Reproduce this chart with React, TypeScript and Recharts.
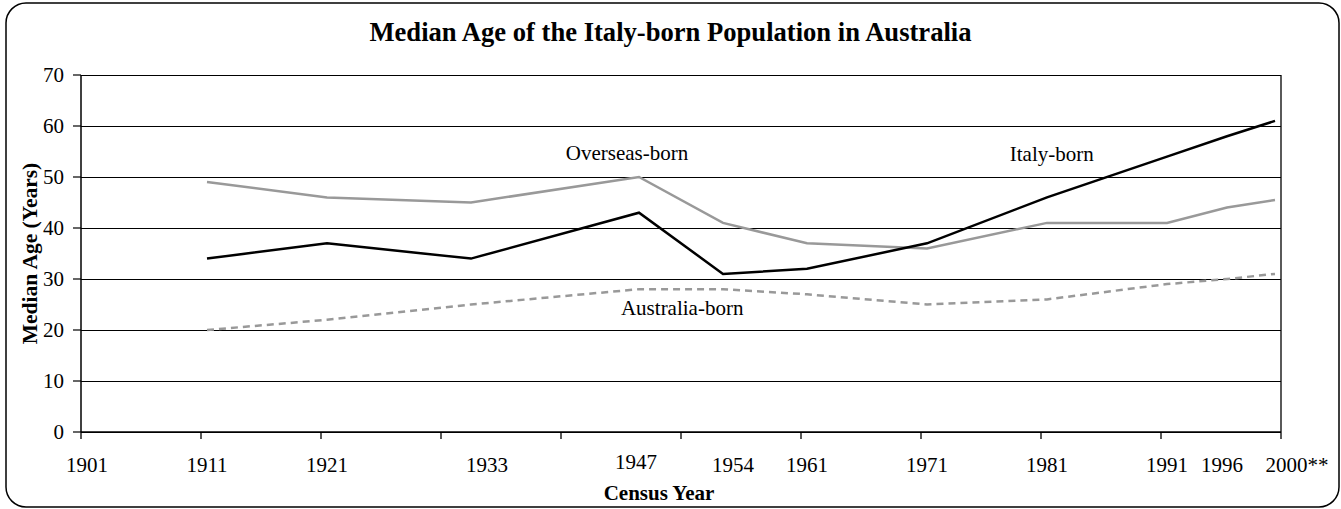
import React from 'react';
import {
  LineChart,
  Line,
  XAxis,
  YAxis,
  CartesianGrid,
  ReferenceDot,
  ReferenceLine,
} from 'recharts';

// ---- data ----
const CENSUS_YEARS = [1911, 1921, 1933, 1947, 1954, 1961, 1971, 1981, 1991, 1996, 2000];
const ITALY_BORN = [34, 37, 34, 43, 31, 32, 37, 46, 54, 58, 61];
const OVERSEAS_BORN = [49, 46, 45, 50, 41, 37, 36, 41, 41, 44, 45.5];
const AUSTRALIA_BORN = [20, 22, 25, 28, 28, 27, 25, 26, 29, 30, 31];

const TICK_YEARS = [1901, 1911, 1921, 1933, 1947, 1954, 1961, 1971, 1981, 1991, 1996, 2000];
const TICK_LABELS = ['1901', '1911', '1921', '1933', '1947', '1954', '1961', '1971', '1981', '1991', '1996', '2000**'];
const MARK_TICKS = [1900.5, 1910.5, 1920.5, 1930.5, 1940.5, 1950.5, 1960.5, 1970.5, 1980.5, 1990.5, 2000.5];
const Y_TICKS = [0, 10, 20, 30, 40, 50, 60, 70];
const X_DOMAIN: [number, number] = [1900.5, 2000.5];

const SERIES_LABELS = [
  { text: 'Overseas-born', year: 1946, value: 54.7 },
  { text: 'Italy-born', year: 1981.4, value: 54.6 },
  { text: 'Australia-born', year: 1950.6, value: 24.5 },
];

const TITLE = 'Median Age of the Italy-born Population in Australia';
const X_TITLE = 'Census Year';
const Y_TITLE = 'Median Age (Years)';

// ---- style ----
const FONT = "'Liberation Serif', 'Times New Roman', serif";
const W = 1341;
const H = 509;
const GRAY = '#999999';
const LABEL_NUDGE: Record<string, { dx: number; dy: number }> = {
  '1933': { dx: 16, dy: 0 },
  '1947': { dx: -3, dy: -3 },
  '1954': { dx: 10, dy: 0 },
  '1996': { dx: -5, dy: 0 },
  '2000**': { dx: 22, dy: 0 },
};

const data = CENSUS_YEARS.map((year, i) => ({
  year,
  italy: ITALY_BORN[i],
  overseas: OVERSEAS_BORN[i],
  australia: AUSTRALIA_BORN[i],
}));

const XLabelTick = (props: any) => {
  const { x, payload } = props;
  const idx = TICK_YEARS.indexOf(payload.value);
  const label = idx >= 0 ? TICK_LABELS[idx] : String(payload.value);
  const n = LABEL_NUDGE[label] || { dx: 0, dy: 0 };
  return (
    <text
      x={x + n.dx}
      y={472 + n.dy}
      textAnchor="middle"
      fontSize={21}
      fill="#000"
      fontFamily={FONT}
    >
      {label}
    </text>
  );
};

const EmptyTick = () => <g />;

export default function App() {
  return (
    <div
      style={{
        position: 'absolute',
        left: 0,
        top: 0,
        width: W,
        height: H,
        background: '#fff',
        fontFamily: FONT,
      }}
    >
      <svg
        width={W}
        height={H}
        style={{ position: 'absolute', left: 0, top: 0 }}
      >
        <rect x={6} y={3} width={1333} height={504} rx={20} ry={20} fill="#fff" stroke="#000" strokeWidth={1.5} />
        <text x={670.5} y={41} textAnchor="middle" fontSize={26.6} fontWeight="bold" fill="#000" fontFamily={FONT}>
          {TITLE}
        </text>
        <text x={659} y={500} textAnchor="middle" fontSize={21} fontWeight="bold" fill="#000" fontFamily={FONT}>
          {X_TITLE}
        </text>
        <text
          transform="translate(37,253.5) rotate(-90)"
          x={0}
          y={0}
          textAnchor="middle"
          fontSize={21.5}
          fontWeight="bold"
          fill="#000"
          fontFamily={FONT}
        >
          {Y_TITLE}
        </text>
      </svg>
      <div style={{ position: 'absolute', left: 0, top: 0 }}>
        <LineChart
          width={W}
          height={H}
          data={data}
          margin={{ top: 75, right: 60, left: 0, bottom: 0 }}
        >
          <CartesianGrid
            horizontal
            vertical={false}
            stroke="#000"
            strokeWidth={1}
            shapeRendering="crispEdges"
            yAxisId="left"
            xAxisId="a"
          />
          <XAxis
            xAxisId="a"
            dataKey="year"
            type="number"
            domain={X_DOMAIN}
            ticks={MARK_TICKS}
            interval={0}
            allowDataOverflow
            height={1}
            tick={<EmptyTick />}
            tickSize={7}
            tickLine={{ stroke: '#000', strokeWidth: 1.3 }}
            axisLine={{ stroke: '#000', strokeWidth: 1.5 }}
          />
          <XAxis
            xAxisId="b"
            dataKey="year"
            type="number"
            domain={X_DOMAIN}
            ticks={TICK_YEARS}
            interval={0}
            allowDataOverflow
            height={76}
            tickSize={0}
            tickMargin={0}
            tickLine={false}
            axisLine={false}
            tick={<XLabelTick />}
          />
          <YAxis
            yAxisId="left"
            domain={[0, 70]}
            ticks={Y_TICKS}
            interval={0}
            width={81}
            tickSize={8}
            tickMargin={9}
            tick={{ fontSize: 21, fill: '#000', fontFamily: FONT }}
            tickLine={{ stroke: '#000', strokeWidth: 1.2 }}
            axisLine={{ stroke: '#000', strokeWidth: 1.5 }}
          />
          <ReferenceLine xAxisId="b" yAxisId="left" x={X_DOMAIN[1]} stroke="#000" strokeWidth={1.3} />
          <Line
            xAxisId="b"
            yAxisId="left"
            type="linear"
            dataKey="overseas"
            stroke={GRAY}
            strokeWidth={2.5}
            dot={false}
            isAnimationActive={false}
          />
          <Line
            xAxisId="b"
            yAxisId="left"
            type="linear"
            dataKey="australia"
            stroke={GRAY}
            strokeWidth={2.5}
            strokeDasharray="7 5"
            dot={false}
            isAnimationActive={false}
          />
          <Line
            xAxisId="b"
            yAxisId="left"
            type="linear"
            dataKey="italy"
            stroke="#000"
            strokeWidth={2.5}
            dot={false}
            isAnimationActive={false}
          />
          {SERIES_LABELS.map((s) => (
            <ReferenceDot
              key={s.text}
              xAxisId="b"
              yAxisId="left"
              x={s.year}
              y={s.value}
              r={0}
              fill="none"
              stroke="none"
              label={{ value: s.text, position: 'center', fontSize: 21, fill: '#000', fontFamily: FONT }}
            />
          ))}
        </LineChart>
      </div>
    </div>
  );
}
